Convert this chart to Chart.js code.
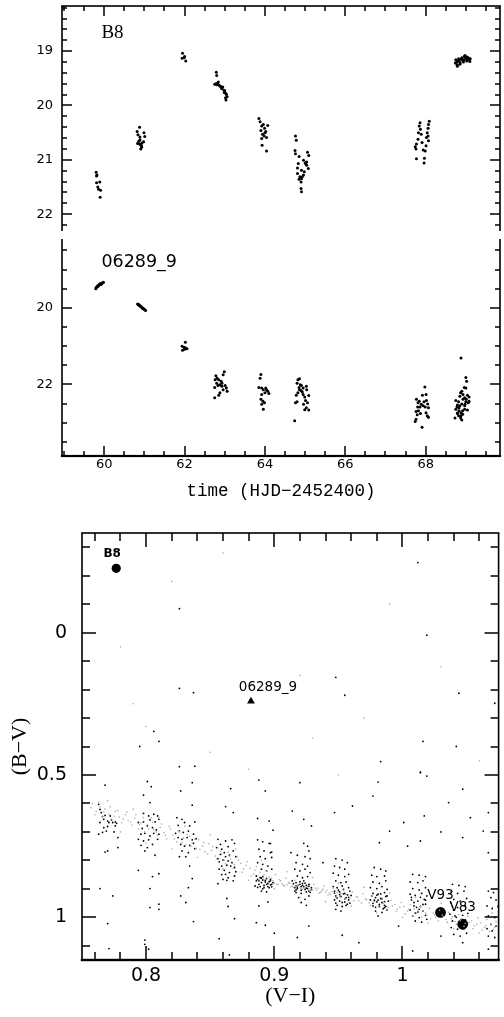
<!DOCTYPE html>
<html>
<head>
<meta charset="utf-8">
<title>B8 and 06289_9</title>
<script src="https://cdn.jsdelivr.net/npm/chart.js@4.4.1/dist/chart.umd.min.js"></script>
<style>
  body { margin: 0; background: #fff; }
  canvas { position: absolute; left: 0; }
  #lcTop { top: 0; }
  #lcBottom { top: 235px; }
  #cmd { top: 505px; }
</style>
</head>
<body>
<canvas id="lcTop" width="504" height="235"></canvas>
<canvas id="lcBottom" width="504" height="270"></canvas>
<canvas id="cmd" width="504" height="512"></canvas>
<script>
// ---- light curves: [time (HJD-2452400), magnitude] ----
const b8Points = [
  [59.80,21.23],[59.81,21.30],[59.82,21.28],[59.81,21.42],[59.89,21.41],[59.84,21.50],[59.86,21.54],[59.91,21.56],[59.90,21.69],
  [60.88,20.40],[60.82,20.48],[60.84,20.54],[60.89,20.58],[60.99,20.50],[61.01,20.57],[60.83,20.70],[60.88,20.71],[60.93,20.74],
  [60.94,20.69],[60.98,20.67],[60.91,20.80],[60.93,20.77],[60.89,20.63],[60.90,20.72],[60.86,20.66],
  [61.95,19.04],[62.00,19.10],[61.94,19.13],[62.03,19.18],[61.99,19.12],
  [62.79,19.39],[62.80,19.45],[62.75,19.61],[62.84,19.57],[62.88,19.64],[62.95,19.66],[62.98,19.72],[63.03,19.78],[63.06,19.84],
  [63.03,19.90],[62.92,19.69],[62.99,19.76],[62.78,19.60],[62.80,19.62],[62.82,19.59],[62.86,19.63],[62.90,19.65],[62.93,19.68],
  [63.00,19.73],[63.04,19.80],[63.02,19.86],
  [63.85,20.24],[63.88,20.30],[63.92,20.38],[63.96,20.35],[64.07,20.37],[63.90,20.46],[63.99,20.42],[64.02,20.48],[63.94,20.53],
  [63.98,20.56],[64.04,20.59],[63.92,20.61],[63.93,20.73],[64.04,20.84],[64.00,20.50],
  [64.76,20.56],[64.78,20.64],[64.75,20.83],[64.76,20.89],[64.85,20.94],[65.06,20.86],[65.09,20.92],[64.96,21.01],[65.00,21.06],
  [65.04,21.10],[65.08,21.16],[64.83,21.07],[64.81,21.15],[64.91,21.19],[64.98,21.22],[64.81,21.25],[64.87,21.31],[64.91,21.35],
  [64.85,21.36],[64.90,21.41],[64.93,21.31],[64.96,21.28],[64.91,21.59],[64.90,21.53],[65.01,21.07],[65.04,21.04],
  [67.86,20.32],[67.84,20.38],[67.87,20.44],[67.82,20.50],[67.89,20.53],[67.81,20.62],[67.77,20.71],[67.74,20.76],[67.76,20.80],
  [67.77,20.98],[67.91,20.68],[68.09,20.29],[68.07,20.35],[68.06,20.42],[68.04,20.50],[68.02,20.59],[68.07,20.65],[68.01,20.74],
  [67.94,20.82],[67.99,20.84],[67.97,20.97],[67.96,21.06],[68.06,20.56],
  [68.74,19.22],[68.75,19.16],[68.77,19.20],[68.78,19.25],[68.80,19.18],[68.82,19.14],[68.84,19.19],[68.86,19.22],[68.88,19.15],
  [68.90,19.12],[68.92,19.17],[68.94,19.20],[68.96,19.10],[68.98,19.08],[69.00,19.13],[69.02,19.18],[69.04,19.15],[69.06,19.12],
  [69.08,19.16],[69.10,19.19],[69.11,19.14],[68.79,19.28],[68.85,19.24],[68.95,19.16],[69.03,19.11]
];

const n06289Points = [
  [59.79,19.50],[59.80,19.47],[59.82,19.46],[59.83,19.44],[59.84,19.42],[59.85,19.43],[59.86,19.41],[59.88,19.40],[59.89,19.37],
  [59.90,19.38],[59.92,19.39],[59.93,19.36],[59.95,19.35],[59.97,19.34],[59.98,19.33],
  [60.83,19.90],[60.85,19.92],[60.86,19.91],[60.87,19.93],[60.88,19.94],[60.90,19.95],[60.91,19.97],[60.93,19.98],[60.95,20.00],
  [60.96,20.01],[60.97,20.02],[60.99,20.03],[61.01,20.05],[61.03,20.07],
  [62.02,20.90],[61.94,21.00],[61.99,21.03],[62.03,21.05],[61.95,21.11],[62.00,21.08],[62.06,21.07],
  [62.99,21.67],[62.96,21.75],[62.78,21.77],[62.81,21.84],[62.76,21.88],[62.85,21.88],[62.91,21.92],[62.93,21.97],[62.88,22.01],
  [62.83,22.03],[62.75,22.08],[63.01,22.03],[63.04,22.09],[62.96,22.14],[63.06,22.18],[62.88,22.22],[62.85,22.28],[62.75,22.35],
  [62.93,22.05],[62.80,21.97],
  [63.90,21.74],[63.88,21.84],[63.85,22.08],[63.92,22.09],[63.96,22.14],[64.02,22.09],[64.07,22.18],[64.10,22.24],[64.00,22.22],
  [63.92,22.26],[63.90,22.39],[63.95,22.44],[63.99,22.48],[63.92,22.52],[63.96,22.65],[64.04,22.14],
  [64.82,21.88],[64.86,21.85],[64.80,21.97],[64.88,22.01],[64.85,22.08],[64.91,22.03],[64.95,22.09],[65.03,22.05],[65.04,22.14],
  [64.90,22.16],[64.82,22.22],[64.78,22.28],[64.95,22.26],[64.99,22.33],[65.09,22.29],[64.76,22.48],[64.80,22.45],[65.01,22.42],
  [65.06,22.48],[64.96,22.52],[65.03,22.61],[64.99,22.66],[65.09,22.67],[64.74,22.95],[64.86,22.14],[64.93,22.20],
  [67.98,22.07],[67.92,22.28],[68.01,22.26],[67.77,22.39],[67.84,22.44],[68.02,22.42],[67.81,22.48],[67.89,22.52],[68.05,22.51],
  [67.94,22.56],[67.99,22.59],[68.07,22.61],[68.01,22.74],[67.82,22.69],[67.76,22.71],[67.87,22.76],[67.79,22.79],[68.04,22.82],
  [67.76,22.91],[67.74,22.97],[67.91,23.12],[67.86,22.59],[67.96,22.45],[68.07,22.86],[67.80,22.59],
  [68.88,21.31],[69.00,21.82],[69.02,21.92],[68.96,22.08],[69.00,22.09],[68.90,22.18],[68.87,22.22],[69.04,22.28],[69.08,22.33],
  [68.97,22.35],[68.93,22.39],[68.75,22.42],[68.82,22.45],[69.00,22.45],[69.06,22.48],[68.90,22.51],[68.79,22.54],[68.85,22.56],
  [68.97,22.56],[69.04,22.67],[68.75,22.65],[68.83,22.69],[68.88,22.74],[68.79,22.76],[68.92,22.78],[68.82,22.82],[68.73,22.88],
  [68.87,22.88],[68.90,22.93],[68.97,22.65],[68.83,22.61],[68.93,22.26],[69.01,22.39],[68.78,22.59],[68.88,22.82],[68.92,22.69],
  [69.08,22.44],[68.85,22.31],[68.80,22.74],[68.98,22.52]
];

const timeTicks = [60, 62, 64, 66, 68];
const b8MagTicks = [19, 20, 21, 22];
const n06289MagTicks = [20, 22];

// ---- colour-colour diagram: [(V-I), (B-V)] ----
const markedNames = ['B8', '06289_9', 'V93', 'V83'];
const markedVI = [0.7767, 0.8818, 1.0297, 1.0470];
const markedBV = [-0.226, 0.241, 0.983, 1.0245];

// sparse field stars
const cmdField = [
  [0.826,-0.084],[1.012,-0.246],[1.019,0.009],[0.948,0.157],[0.826,0.196],[0.837,0.211],[0.955,0.220],[1.044,0.213],[1.072,0.248],
  [0.806,0.347],[0.810,0.382],[0.795,0.400],[1.016,0.382],[1.042,0.400],[0.983,0.453],[0.826,0.471],[0.838,0.469],[1.014,0.490],
  [0.768,0.536],[0.801,0.523],[0.804,0.541],[0.836,0.527],[0.827,0.556],[0.798,0.571],[0.866,0.548],[0.888,0.518],[0.893,0.556],
  [0.763,0.603],[0.803,0.597],[0.836,0.606],[0.862,0.611],[0.868,0.632],[0.887,0.653],[0.896,0.662],[0.899,0.694],[0.897,0.741],
  [0.898,0.771],[0.778,0.755],[0.768,0.771],[0.770,0.767],[0.807,0.782],[0.794,0.835],[0.805,0.857],[0.834,0.820],[0.836,0.864],
  [0.833,0.896],[0.810,0.847],[0.764,0.899],[0.774,0.925],[0.803,0.899],[0.827,0.925],[0.863,0.934],[0.864,0.962],[0.869,1.005],
  [0.856,0.882],[0.888,0.960],[0.895,0.946],[0.900,1.056],[0.886,1.019],[0.893,1.028],[0.770,1.022],[0.803,0.966],[0.810,0.954],
  [0.810,0.972],[0.831,0.948],[0.837,1.015],[0.857,1.075],[0.799,1.080],[0.799,1.095],[0.802,1.112],[0.771,1.110],[0.865,1.132],
  [0.920,0.527],[0.981,0.525],[1.014,0.492],[1.019,0.504],[0.914,0.627],[0.923,0.656],[0.929,0.679],[0.947,0.632],[0.961,0.609],
  [0.977,0.574],[0.990,0.697],[1.001,0.667],[1.017,0.644],[1.036,0.597],[1.047,0.550],[1.053,0.650],[1.067,0.632],[1.063,0.697],
  [1.030,0.700],[1.047,0.720],[0.982,0.738],[1.004,0.750],[1.014,0.732],[1.067,0.773],[0.913,0.773],[0.938,0.808],[1.047,1.089],
  [1.067,1.112],[0.953,1.063],[0.966,1.089],[0.997,1.031],[1.008,1.118],[1.030,1.066],[0.927,1.031],[0.918,1.071]
];

// dense groups along the sequence
const cmdGroups = [
  [0.764,0.621],[0.765,0.632],[0.766,0.646],[0.768,0.642],[0.767,0.656],[0.770,0.662],[0.771,0.667],[0.773,0.658],[0.774,0.667],
  [0.776,0.665],[0.777,0.670],[0.772,0.644],[0.770,0.681],[0.767,0.685],[0.769,0.697],[0.763,0.708],[0.766,0.702],[0.775,0.700],
  [0.778,0.720],[0.764,0.667],[0.776,0.679],
  [0.798,0.635],[0.802,0.644],[0.806,0.638],[0.809,0.644],[0.794,0.667],[0.798,0.665],[0.803,0.658],[0.807,0.665],[0.810,0.656],
  [0.801,0.679],[0.805,0.685],[0.797,0.688],[0.808,0.693],[0.796,0.708],[0.799,0.705],[0.803,0.714],[0.806,0.705],[0.794,0.726],
  [0.798,0.732],[0.802,0.728],[0.809,0.726],[0.796,0.747],[0.801,0.755],[0.805,0.744],[0.799,0.767],[0.810,0.708],
  [0.824,0.650],[0.828,0.656],[0.825,0.677],[0.830,0.667],[0.834,0.679],[0.838,0.665],[0.826,0.697],[0.829,0.702],[0.833,0.697],
  [0.837,0.708],[0.825,0.720],[0.828,0.726],[0.832,0.720],[0.836,0.728],[0.839,0.724],[0.827,0.744],[0.830,0.750],[0.834,0.747],
  [0.838,0.759],[0.828,0.767],[0.833,0.773],[0.826,0.787],[0.831,0.787],[0.837,0.740],[0.823,0.705],
  [0.856,0.726],[0.862,0.732],[0.867,0.728],[0.869,0.740],[0.855,0.755],[0.859,0.761],[0.864,0.752],[0.868,0.767],[0.858,0.779],
  [0.861,0.773],[0.865,0.782],[0.870,0.787],[0.856,0.794],[0.860,0.799],[0.864,0.802],[0.867,0.808],[0.859,0.820],[0.863,0.817],
  [0.869,0.825],[0.857,0.831],[0.862,0.849],[0.865,0.843],[0.869,0.855],[0.860,0.867],[0.864,0.861],[0.868,0.872],[0.862,0.787],
  [0.858,0.744],[0.857,0.805],[0.861,0.835],[0.866,0.820],[0.870,0.840],[0.859,0.850],[0.863,0.870],
  [0.887,0.728],[0.891,0.735],[0.896,0.740],[0.888,0.761],[0.892,0.767],[0.897,0.773],[0.889,0.787],[0.893,0.794],[0.898,0.790],
  [0.887,0.808],[0.891,0.814],[0.895,0.820],[0.890,0.831],[0.894,0.837],[0.898,0.831],[0.886,0.855],[0.889,0.861],[0.891,0.857],
  [0.894,0.864],[0.897,0.872],[0.888,0.872],[0.890,0.878],[0.893,0.876],[0.895,0.881],[0.898,0.884],[0.885,0.890],[0.889,0.892],
  [0.892,0.896],[0.896,0.896],[0.899,0.878],[0.890,0.908],[0.894,0.911],[0.887,0.867],[0.897,0.867],[0.891,0.869],
  [0.886,0.872],[0.888,0.884],[0.890,0.862],[0.892,0.888],[0.893,0.870],[0.895,0.892],[0.896,0.875],[0.898,0.893],[0.887,0.895],
  [0.891,0.900],[0.894,0.884],[0.897,0.886],
  [0.923,0.740],[0.926,0.750],[0.927,0.767],[0.918,0.782],[0.924,0.787],[0.928,0.794],[0.917,0.808],[0.922,0.814],[0.926,0.820],
  [0.916,0.831],[0.920,0.837],[0.924,0.831],[0.928,0.843],[0.918,0.855],[0.922,0.861],[0.926,0.857],[0.914,0.872],[0.917,0.878],
  [0.920,0.884],[0.922,0.881],[0.925,0.888],[0.927,0.884],[0.916,0.896],[0.918,0.899],[0.921,0.892],[0.924,0.902],[0.926,0.899],
  [0.929,0.896],[0.917,0.913],[0.921,0.916],[0.925,0.911],[0.919,0.931],[0.924,0.937],[0.927,0.925],[0.921,0.948],[0.925,0.958],
  [0.917,0.904],[0.923,0.872],[0.927,0.908],
  [0.915,0.882],[0.917,0.890],[0.919,0.886],[0.921,0.905],[0.923,0.893],[0.925,0.897],[0.927,0.891],[0.929,0.903],[0.916,0.908],
  [0.920,0.875],[0.924,0.880],[0.928,0.912],[0.918,0.894],[0.922,0.888],
  [0.948,0.794],[0.953,0.799],[0.957,0.808],[0.947,0.820],[0.951,0.825],[0.955,0.831],[0.946,0.845],[0.950,0.852],[0.955,0.857],
  [0.958,0.849],[0.948,0.872],[0.952,0.878],[0.956,0.876],[0.946,0.892],[0.949,0.896],[0.953,0.890],[0.958,0.896],[0.947,0.908],
  [0.951,0.911],[0.955,0.916],[0.959,0.908],[0.948,0.925],[0.952,0.927],[0.956,0.931],[0.960,0.923],[0.947,0.939],[0.951,0.943],
  [0.955,0.946],[0.958,0.939],[0.949,0.958],[0.953,0.962],[0.957,0.954],[0.952,0.978],[0.948,0.972],[0.954,0.902],
  [0.947,0.915],[0.949,0.932],[0.951,0.920],[0.953,0.948],[0.955,0.935],[0.957,0.921],[0.959,0.950],[0.950,0.905],[0.954,0.918],
  [0.958,0.930],[0.948,0.950],[0.956,0.958],
  [0.978,0.825],[0.983,0.831],[0.987,0.837],[0.976,0.852],[0.980,0.857],[0.986,0.855],[0.977,0.876],[0.982,0.881],[0.987,0.872],
  [0.975,0.896],[0.980,0.899],[0.984,0.892],[0.988,0.902],[0.977,0.916],[0.981,0.919],[0.986,0.913],[0.979,0.931],[0.983,0.934],
  [0.987,0.927],[0.975,0.939],[0.980,0.946],[0.984,0.948],[0.989,0.943],[0.977,0.960],[0.982,0.962],[0.986,0.958],[0.979,0.978],
  [0.984,0.983],[0.988,0.974],[0.981,0.995],[0.986,0.966],[0.977,0.951],
  [0.976,0.925],[0.978,0.940],[0.980,0.922],[0.982,0.955],[0.984,0.935],[0.986,0.945],[0.988,0.925],[0.979,0.965],[0.983,0.918],
  [0.987,0.962],[0.981,0.940],[0.985,0.970],
  [1.008,0.849],[1.013,0.852],[1.018,0.857],[1.006,0.876],[1.012,0.878],[1.016,0.872],[1.008,0.899],[1.013,0.904],[1.018,0.896],
  [1.006,0.919],[1.010,0.923],[1.015,0.916],[1.019,0.925],[1.007,0.939],[1.012,0.943],[1.017,0.937],[1.009,0.960],[1.014,0.962],
  [1.018,0.954],[1.006,0.974],[1.012,0.981],[1.016,0.978],[1.008,0.995],[1.013,1.001],[1.018,0.993],[1.010,1.013],[1.015,1.017],
  [1.019,1.007],[1.007,0.930],[1.009,0.948],[1.011,0.965],[1.014,0.930],[1.016,0.955],[1.018,0.940],[1.010,0.985],[1.013,0.972],
  [1.039,0.884],[1.044,0.888],[1.049,0.892],[1.038,0.911],[1.043,0.916],[1.048,0.908],[1.040,0.937],[1.045,0.943],[1.050,0.934],
  [1.039,0.962],[1.043,0.966],[1.049,0.960],[1.037,0.989],[1.041,0.995],[1.047,0.993],[1.051,0.986],[1.039,1.013],[1.044,1.017],
  [1.049,1.009],[1.038,1.036],[1.043,1.042],[1.048,1.040],[1.040,1.060],[1.045,1.066],[1.050,1.056],
  [1.040,0.975],[1.042,1.000],[1.046,0.978],[1.050,1.020],[1.044,1.030],[1.038,0.950],
  [1.067,0.908],[1.071,0.913],[1.069,0.931],[1.073,0.939],[1.066,0.960],[1.070,0.969],[1.0745,0.962],[1.067,0.995],[1.072,1.001],
  [1.069,1.025],[1.073,1.031],[1.066,1.040],[1.070,1.048],[1.067,1.066],[1.072,1.071]
];

// faint background sequence
const cmdFaint = [
  [0.758,0.600],[0.761,0.628],[0.764,0.612],[0.766,0.645],[0.768,0.620],[0.771,0.637],[0.773,0.655],[0.776,0.628],[0.779,0.648],
  [0.781,0.668],[0.784,0.640],[0.786,0.660],[0.789,0.676],[0.791,0.652],[0.794,0.690],[0.796,0.668],[0.799,0.700],[0.801,0.675],
  [0.804,0.650],[0.806,0.692],[0.809,0.712],[0.811,0.684],[0.814,0.702],[0.816,0.725],[0.819,0.690],[0.821,0.712],[0.824,0.735],
  [0.826,0.700],[0.829,0.722],[0.831,0.745],[0.834,0.715],[0.836,0.738],[0.839,0.758],[0.841,0.728],[0.844,0.750],[0.846,0.770],
  [0.849,0.742],[0.851,0.765],[0.854,0.785],[0.856,0.756],[0.859,0.778],[0.861,0.800],[0.864,0.772],[0.866,0.795],[0.869,0.815],
  [0.871,0.788],[0.874,0.810],[0.876,0.830],[0.879,0.805],[0.881,0.828],[0.884,0.848],[0.886,0.822],[0.889,0.842],[0.891,0.860],
  [0.894,0.838],[0.896,0.858],[0.899,0.872],[0.901,0.850],[0.904,0.868],[0.906,0.882],[0.909,0.862],[0.911,0.878],[0.914,0.890],
  [0.916,0.870],[0.919,0.885],[0.921,0.898],[0.924,0.878],[0.926,0.892],[0.929,0.905],[0.931,0.885],[0.934,0.898],[0.936,0.912],
  [0.939,0.890],[0.941,0.905],[0.944,0.920],[0.946,0.898],[0.949,0.912],[0.951,0.928],[0.954,0.905],[0.956,0.920],[0.959,0.935],
  [0.961,0.912],[0.964,0.928],[0.966,0.942],[0.969,0.918],[0.971,0.935],[0.974,0.950],[0.976,0.925],[0.979,0.942],[0.981,0.958],
  [0.984,0.932],[0.986,0.948],[0.989,0.965],[0.991,0.940],[0.994,0.955],[0.996,0.972],[0.999,0.948],[1.001,0.962],[1.004,0.978],
  [1.006,0.955],[1.009,0.970],[1.011,0.985],[1.014,0.962],[1.016,0.978],[1.019,0.992],[1.021,0.968],[1.024,0.985],[1.026,1.000],
  [1.029,0.975],[1.031,0.992],[1.034,1.008],[1.036,0.982],[1.039,0.998],[1.041,1.015],[1.044,0.990],[1.046,1.005],[1.049,1.022],
  [1.051,0.996],[1.054,1.012],[1.056,1.030],[1.059,1.002],[1.061,1.020],[1.064,1.036],[1.066,1.008],[1.069,1.025],[1.071,1.042],
  [1.073,1.015],
  [0.770,0.590],[0.780,0.700],[0.790,0.620],[0.800,0.740],[0.810,0.650],[0.820,0.760],[0.830,0.680],[0.840,0.790],[0.850,0.710],
  [0.860,0.830],[0.870,0.760],[0.880,0.870],[0.890,0.800],[0.900,0.900],[0.910,0.840],[0.920,0.930],[0.930,0.860],[0.940,0.945],
  [0.950,0.880],[0.960,0.960],[0.970,0.895],[0.980,0.985],[0.990,0.915],[1.000,1.000],[1.010,0.930],[1.020,1.020],[1.030,0.950],
  [1.040,1.040],[1.050,0.965],[1.060,1.055],[1.070,0.985],
  [0.757,0.615],[0.760,0.640],[0.763,0.595],[0.767,0.630],[0.772,0.612],[0.775,0.645],[0.778,0.625],[0.782,0.655],[0.785,0.630],
  [0.788,0.665],[0.792,0.640],[0.795,0.675],[0.798,0.650],[0.802,0.690],[0.805,0.665],[0.808,0.700],[0.812,0.672],[0.815,0.712],
  [0.818,0.680],[0.822,0.725],[0.825,0.695],[0.828,0.738],[0.832,0.710],[0.835,0.750],[0.838,0.725],[0.842,0.762],[0.845,0.738],
  [0.848,0.778],[0.852,0.752],[0.855,0.795],[0.858,0.768],[0.862,0.812],[0.865,0.785],[0.868,0.828],[0.872,0.800],[0.875,0.842],
  [0.878,0.818],[0.882,0.855],[0.885,0.835],[0.888,0.868],[0.892,0.850],[0.895,0.878],[0.898,0.862],[0.902,0.884],[0.905,0.872],
  [0.908,0.890],[0.912,0.880],[0.915,0.895],[0.918,0.888],[0.922,0.902],[0.925,0.893],[0.928,0.908],[0.932,0.898],[0.935,0.915],
  [0.938,0.902],[0.942,0.922],[0.945,0.910],[0.948,0.930],[0.952,0.915],[0.955,0.935],[0.958,0.922],[0.962,0.942],[0.965,0.930],
  [0.968,0.950],[0.972,0.938],[0.975,0.958],[0.978,0.945],[0.982,0.965],[0.985,0.952],[0.988,0.972],[0.992,0.960],[0.995,0.980],
  [0.998,0.965],[1.002,0.988],[1.005,0.972],[1.008,0.995],[1.012,0.978],[1.015,1.000],[1.018,0.985],[1.022,1.005],[1.025,0.992],
  [1.028,1.012],[1.032,0.998],[1.035,1.018],[1.038,1.005],[1.042,1.025],[1.045,1.012],[1.048,1.032],[1.052,1.018],[1.055,1.040],
  [1.058,1.025],[1.062,1.045],[1.065,1.030],[1.068,1.050],[1.072,1.035],
  [0.900,0.880],[0.903,0.885],[0.907,0.887],[0.910,0.886],[0.913,0.893],[0.917,0.892],[0.920,0.896],[0.923,0.897],[0.927,0.900],
  [0.930,0.903],[0.933,0.905],[0.937,0.908],[0.940,0.912],[0.943,0.915],
  [0.780,0.050],[0.820,-0.180],[0.860,-0.280],[0.930,0.370],[0.850,0.420],[0.970,0.300],[1.030,0.120],[0.800,0.330],[0.880,0.480],
  [0.950,0.500],[1.060,0.450],[0.790,0.250],[0.920,0.150],[0.990,-0.100]
];

const viTicks = [0.8, 0.9, 1];
const bvTicks = [0, 0.5, 1];

const toXY = pts => pts.map(p => ({x: p[0], y: p[1]}));

// ---- frame with inward major/minor ticks on every side ----
function stepsIn(min, max, step) {
  const out = [];
  for (let i = Math.ceil(min / step - 1e-6); i * step <= max + 1e-9; i++) out.push(i * step);
  return out;
}
function onStep(v, step) {
  return Math.abs(v / step - Math.round(v / step)) < 1e-6;
}

function makeFrame(cfg) {
  return {
    id: 'frame',
    afterDraw(chart) {
      const ctx = chart.ctx;
      const area = chart.chartArea;
      const x0 = area.left, x1 = area.right, y0 = area.top, y1 = area.bottom;
      const xs = chart.scales.x, ys = chart.scales.y;
      const w = cfg.tickWidth;
      ctx.save();
      ctx.fillStyle = '#000';

      // outline
      ctx.fillRect(x0 - cfg.lineWidth / 2, y0, cfg.lineWidth, y1 - y0);
      ctx.fillRect(x1 - cfg.lineWidth / 2, y0, cfg.lineWidth, y1 - y0);
      if (cfg.ticksTop) ctx.fillRect(x0 - cfg.lineWidth / 2, y0 - cfg.lineWidth / 2, x1 - x0 + cfg.lineWidth, cfg.lineWidth);
      if (cfg.ticksBottom) ctx.fillRect(x0 - cfg.bottomWidth / 2, y1 - cfg.bottomWidth / 2, x1 - x0 + cfg.bottomWidth, cfg.bottomWidth);

      // tick marks pointing into the plot, snapped to whole pixels
      for (const v of stepsIn(xs.min, xs.max, cfg.xMinor)) {
        const len = onStep(v, cfg.xMajor) ? cfg.majorLen : cfg.minorLen;
        const px = Math.round(xs.getPixelForValue(v)) - w / 2;
        if (cfg.ticksTop) ctx.fillRect(px, y0, w, len);
        if (cfg.ticksBottom) ctx.fillRect(px, y1 - len, w, len);
      }
      for (const v of stepsIn(ys.min, ys.max, cfg.yMinor)) {
        const len = onStep(v, cfg.yMajor) ? cfg.majorLen : cfg.minorLen;
        const py = Math.round(ys.getPixelForValue(v)) - w / 2;
        ctx.fillRect(x0, py, len, w);
        ctx.fillRect(x1 - len, py, len, w);
      }
      ctx.restore();
    }
  };
}

// ---- text placed at data coordinates ----
function makeNotes(items) {
  return {
    id: 'notes',
    afterDraw(chart) {
      const {ctx} = chart;
      items.forEach(n => {
        ctx.save();
        ctx.font = n.font;
        ctx.fillStyle = '#000';
        ctx.textAlign = n.align || 'center';
        ctx.textBaseline = 'middle';
        const px = chart.scales.x.getPixelForValue(n.x) + (n.dx || 0);
        const py = chart.scales.y.getPixelForValue(n.y) + (n.dy || 0);
        ctx.fillText(n.text, px, py);
        ctx.restore();
      });
    }
  };
}

Chart.defaults.font.family = '"DejaVu Sans", sans-serif';
Chart.defaults.color = '#000';

function fixedTicks(values) {
  return s => { s.ticks = values.map(v => ({value: v})); };
}
// pin an axis box to a fixed size and drop the label overhang padding
function pinWidth(w) {
  return s => { s.width = w; s.paddingTop = 0; s.paddingBottom = 0; };
}
function pinHeight(h) {
  return s => { s.height = h; s.paddingLeft = 0; s.paddingRight = 0; };
}

const timeRange = {min: 58.95, max: 69.85};

function lightCurve(id, points, magMin, magMax, magTicks, frameCfg, note, showTime) {
  return new Chart(document.getElementById(id), {
    type: 'scatter',
    data: {
      datasets: [{
        data: toXY(points),
        pointRadius: 1.5,
        pointBorderWidth: 0,
        backgroundColor: '#000',
        borderColor: '#000'
      }]
    },
    options: {
      responsive: false,
      animation: false,
      events: [],
      layout: {padding: {top: showTime ? 0 : 6, right: 3, left: 0, bottom: 0}},
      plugins: {legend: {display: false}, tooltip: {enabled: false}},
      scales: {
        x: {
          type: 'linear',
          min: timeRange.min,
          max: timeRange.max,
          display: showTime,
          afterFit: pinHeight(showTime ? 49 : 0),
          afterBuildTicks: fixedTicks(timeTicks),
          grid: {display: false, drawTicks: false},
          border: {display: false},
          ticks: {padding: 1, maxRotation: 0, font: {size: 13}, callback: v => String(v)},
          title: {
            display: true,
            text: 'time (HJD\u22122452400)',
            font: {family: '"Liberation Mono", monospace', size: 17.5},
            padding: {top: 0, bottom: 3}
          }
        },
        y: {
          type: 'linear',
          reverse: true,
          min: magMin,
          max: magMax,
          afterFit: pinWidth(62),
          afterBuildTicks: fixedTicks(magTicks),
          grid: {display: false, drawTicks: false},
          border: {display: false},
          ticks: {padding: 9, font: {size: 13}, callback: v => String(v)}
        }
      }
    },
    plugins: [makeFrame(frameCfg), makeNotes([note])]
  });
}

lightCurve('lcTop', b8Points, 18.17, 22.31, b8MagTicks,
  {ticksTop: true, ticksBottom: false, xMajor: 2, xMinor: 0.5, yMajor: 1, yMinor: 0.2,
   majorLen: 10, minorLen: 5, tickWidth: 1.5, lineWidth: 1.6},
  {text: 'B8', x: 59.93, y: 18.67, align: 'left', font: '19px "Liberation Serif", serif'},
  false);

lightCurve('lcBottom', n06289Points, 18.2, 23.87, n06289MagTicks,
  {ticksTop: false, ticksBottom: true, xMajor: 2, xMinor: 0.5, yMajor: 2, yMinor: 0.5,
   majorLen: 10, minorLen: 5, tickWidth: 1.5, lineWidth: 1.6, bottomWidth: 2.2},
  {text: '06289_9', x: 59.93, y: 18.82, align: 'left', font: '17.5px "DejaVu Sans", sans-serif'},
  true);

// ---- (B-V) vs (V-I) ----
const markedPoints = markedNames.map((n, i) => ({x: markedVI[i], y: markedBV[i]}));
const markOffsets = [[-4, -14], [17, -14], [0, -16.5], [0, -16.5]];
const markFonts = ['bold 12px "DejaVu Sans", sans-serif', '13.5px "DejaVu Sans", sans-serif',
                   '13.5px "DejaVu Sans", sans-serif', '13.5px "DejaVu Sans", sans-serif'];

new Chart(document.getElementById('cmd'), {
  type: 'scatter',
  data: {
    datasets: [
      {data: toXY(cmdFaint), pointRadius: 0.8, pointBorderWidth: 0, backgroundColor: '#aaaaaa'},
      {data: toXY(cmdGroups), pointRadius: 0.9, pointBorderWidth: 0, backgroundColor: '#000'},
      {data: toXY(cmdField), pointRadius: 0.9, pointBorderWidth: 0, backgroundColor: '#000'},
      {
        data: markedPoints,
        pointStyle: ['circle', 'triangle', 'circle', 'circle'],
        pointRadius: [4.6, 4.5, 5.4, 5.4],
        pointBorderWidth: 0,
        backgroundColor: '#000',
        borderColor: '#000'
      }
    ]
  },
  options: {
    responsive: false,
    animation: false,
    events: [],
    layout: {padding: {top: 28, right: 5, left: 0, bottom: 0}},
    plugins: {legend: {display: false}, tooltip: {enabled: false}},
    scales: {
      x: {
        type: 'linear',
        min: 0.75,
        max: 1.075,
        afterFit: pinHeight(57),
        afterBuildTicks: fixedTicks(viTicks),
        grid: {display: false, drawTicks: false},
        border: {display: false},
        ticks: {padding: 5, maxRotation: 0, font: {size: 19}, callback: v => String(v)},
        title: {
          display: true,
          text: '(V\u2212I)',
          font: {family: '"Liberation Serif", serif', size: 22},
          padding: {top: 0, bottom: 8}
        }
      },
      y: {
        type: 'linear',
        reverse: true,
        min: -0.35,
        max: 1.15,
        afterFit: pinWidth(82),
        afterBuildTicks: fixedTicks(bvTicks),
        grid: {display: false, drawTicks: false},
        border: {display: false},
        ticks: {padding: 15, font: {size: 19}, callback: v => String(v)},
        title: {
          display: true,
          text: '(B\u2212V)',
          font: {family: '"Liberation Serif", serif', size: 22},
          padding: {top: 7, bottom: 0}
        }
      }
    }
  },
  plugins: [
    makeFrame({ticksTop: true, ticksBottom: true, xMajor: 0.1, xMinor: 0.02, yMajor: 0.5, yMinor: 0.1,
               majorLen: 14, minorLen: 8, tickWidth: 1.5, lineWidth: 1.6, bottomWidth: 2.4}),
    makeNotes(markedNames.map((n, i) => ({
      text: n, x: markedVI[i], y: markedBV[i],
      dx: markOffsets[i][0], dy: markOffsets[i][1], font: markFonts[i]
    })))
  ]
});
</script>
</body>
</html>
